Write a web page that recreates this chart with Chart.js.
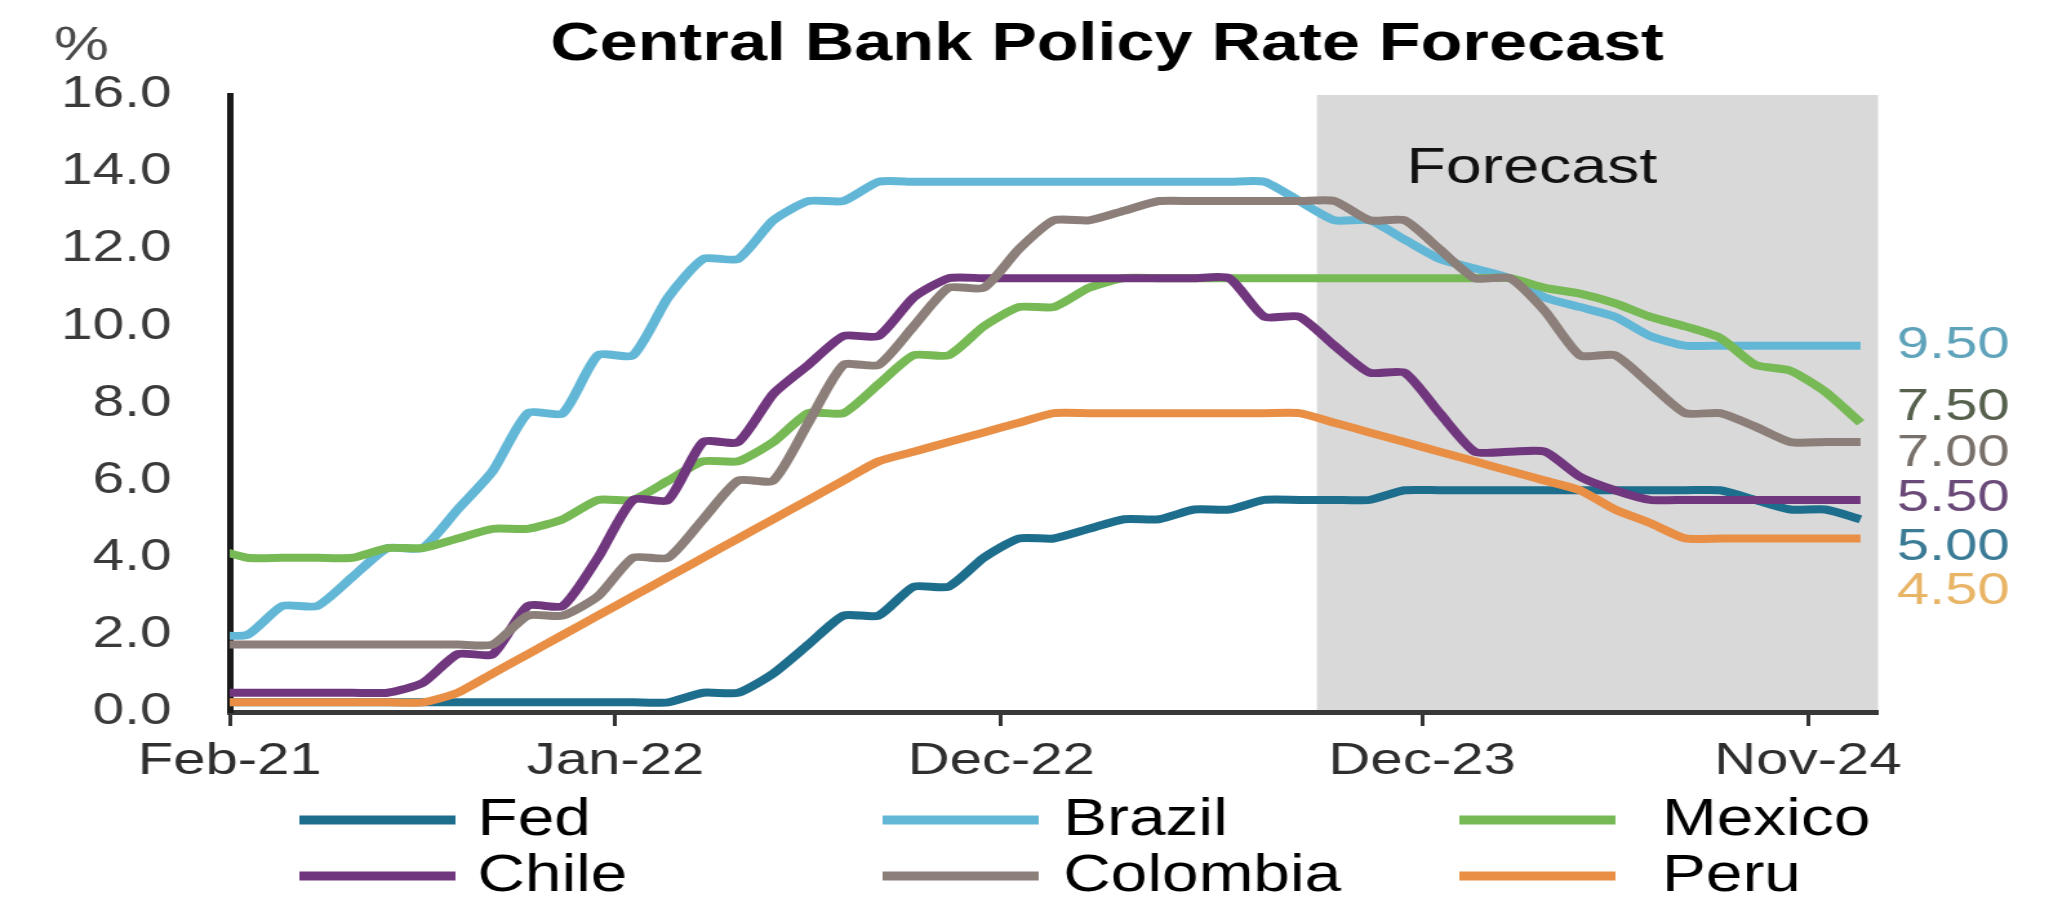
<!DOCTYPE html>
<html>
<head>
<meta charset="utf-8">
<title>Central Bank Policy Rate Forecast</title>
<script src="https://cdn.jsdelivr.net/npm/chart.js@4.4.1/dist/chart.umd.min.js"></script>
<style>
    html, body { margin: 0; padding: 0; background: #fff; overflow: hidden; }
    canvas { display: block; }
</style>
</head>
<body>
<canvas id="rates" width="1588" height="906" style="width:2049px;height:906px"></canvas>
<script>
const months = [
    'Jan-21', 'Feb-21', 'Mar-21', 'Apr-21', 'May-21', 'Jun-21', 'Jul-21', 'Aug-21', 'Sep-21', 'Oct-21', 'Nov-21', 'Dec-21',
    'Jan-22', 'Feb-22', 'Mar-22', 'Apr-22', 'May-22', 'Jun-22', 'Jul-22', 'Aug-22', 'Sep-22', 'Oct-22', 'Nov-22', 'Dec-22',
    'Jan-23', 'Feb-23', 'Mar-23', 'Apr-23', 'May-23', 'Jun-23', 'Jul-23', 'Aug-23', 'Sep-23', 'Oct-23', 'Nov-23', 'Dec-23',
    'Jan-24', 'Feb-24', 'Mar-24', 'Apr-24', 'May-24', 'Jun-24', 'Jul-24', 'Aug-24', 'Sep-24', 'Oct-24', 'Nov-24', 'Dec-24'
];
const tickMonths = ['Feb-21', 'Jan-22', 'Dec-22', 'Dec-23', 'Nov-24'];
const forecastFrom = 'Sep-23';

// month-end policy rates, %
const fed = [
    0.25, 0.25, 0.25, 0.25, 0.25, 0.25, 0.25, 0.25, 0.25, 0.25, 0.25, 0.25,
    0.25, 0.25, 0.5, 0.5, 1.0, 1.75, 2.5, 2.5, 3.25, 3.25, 4.0, 4.5,
    4.5, 4.75, 5.0, 5.0, 5.25, 5.25, 5.5, 5.5, 5.5, 5.5, 5.75, 5.75,
    5.75, 5.75, 5.75, 5.75, 5.75, 5.75, 5.75, 5.75, 5.5, 5.25, 5.25, 5.0
];
const brazil = [
    2.0, 2.0, 2.75, 2.75, 3.5, 4.25, 4.25, 5.25, 6.25, 7.75, 7.75, 9.25,
    9.25, 10.75, 11.75, 11.75, 12.75, 13.25, 13.25, 13.75, 13.75, 13.75, 13.75, 13.75,
    13.75, 13.75, 13.75, 13.75, 13.75, 13.75, 13.75, 13.25, 12.75, 12.75, 12.25, 11.75,
    11.5, 11.25, 10.75, 10.5, 10.25, 9.75, 9.5, 9.5, 9.5, 9.5, 9.5, 9.5
];
const mexico = [
    4.25, 4.0, 4.0, 4.0, 4.0, 4.25, 4.25, 4.5, 4.75, 4.75, 5.0, 5.5,
    5.5, 6.0, 6.5, 6.5, 7.0, 7.75, 7.75, 8.5, 9.25, 9.25, 10.0, 10.5,
    10.5, 11.0, 11.25, 11.25, 11.25, 11.25, 11.25, 11.25, 11.25, 11.25, 11.25, 11.25,
    11.25, 11.25, 11.0, 10.85, 10.6, 10.25, 10.0, 9.7, 9.0, 8.85, 8.3, 7.5
];
const chile = [
    0.5, 0.5, 0.5, 0.5, 0.5, 0.5, 0.75, 1.5, 1.5, 2.75, 2.75, 4.0,
    5.5, 5.5, 7.0, 7.0, 8.25, 9.0, 9.75, 9.75, 10.75, 11.25, 11.25, 11.25,
    11.25, 11.25, 11.25, 11.25, 11.25, 11.25, 10.25, 10.25, 9.5, 8.8, 8.8, 7.75,
    6.75, 6.75, 6.75, 6.1, 5.75, 5.5, 5.5, 5.5, 5.5, 5.5, 5.5, 5.5
];
const colombia = [
    1.75, 1.75, 1.75, 1.75, 1.75, 1.75, 1.75, 1.75, 1.75, 2.5, 2.5, 3.0,
    4.0, 4.0, 5.0, 6.0, 6.0, 7.5, 9.0, 9.0, 10.0, 11.0, 11.0, 12.0,
    12.75, 12.75, 13.0, 13.25, 13.25, 13.25, 13.25, 13.25, 13.25, 12.75, 12.75, 12.0,
    11.25, 11.25, 10.4, 9.25, 9.25, 8.5, 7.75, 7.75, 7.4, 7.0, 7.0, 7.0
];
const peru = [
    0.25, 0.25, 0.25, 0.25, 0.25, 0.25, 0.25, 0.5, 1.0, 1.5, 2.0, 2.5,
    3.0, 3.5, 4.0, 4.5, 5.0, 5.5, 6.0, 6.5, 6.75, 7.0, 7.25, 7.5,
    7.75, 7.75, 7.75, 7.75, 7.75, 7.75, 7.75, 7.75, 7.5, 7.25, 7.0, 6.75,
    6.5, 6.25, 6.0, 5.75, 5.25, 4.9, 4.5, 4.5, 4.5, 4.5, 4.5, 4.5
];

const FONT = "'Liberation Sans', Arial, Helvetica, sans-serif";

// x runs in months from 1 Feb 2021; each month-end value sits mid-month
const monthStart = m => months.indexOf(m) - 1;
const points = values => values.map((v, i) => ({ x: i - 0.5, y: v }));

const line = (label, values, color, order) => ({
    label, order,
    data: points(values),
    borderColor: color,
    backgroundColor: color,
    borderWidth: 8,
    pointRadius: 0,
    tension: 0.2,
    borderJoinStyle: 'round',
    fill: false
});

// end-of-line value tags, nudged apart where they would overlap
const endTags = {
    Fed: { color: '#3b7b95', shift: 28 },
    Brazil: { color: '#5fa3bb', shift: 0 },
    Mexico: { color: '#56614d', shift: -15 },
    Chile: { color: '#6a4a78', shift: -1 },
    Colombia: { color: '#78716b', shift: 12 },
    Peru: { color: '#e8b466', shift: 53 }
};

const forecastShade = {
    id: 'forecastShade',
    beforeDraw(chart) {
        const { ctx, chartArea: a, scales: { x } } = chart;
        const left = x.getPixelForValue(monthStart(forecastFrom));
        ctx.save();
        ctx.fillStyle = '#d9d9d9';
        ctx.fillRect(left, a.top, a.right - left, a.bottom - a.top);
        ctx.restore();
    }
};

const annotations = {
    id: 'annotations',
    afterDraw(chart) {
        const { ctx, scales: { y } } = chart;
        ctx.save();

        ctx.textAlign = 'center';
        ctx.textBaseline = 'alphabetic';
        ctx.fillStyle = '#000';
        ctx.font = `bold 53px ${FONT}`;
        ctx.fillText('Central Bank Policy Rate Forecast', 858, 60);

        ctx.fillStyle = '#4a4a4a';
        ctx.font = `48px ${FONT}`;
        ctx.fillText('%', 63, 60);

        ctx.textAlign = 'left';
        ctx.fillStyle = '#111';
        ctx.font = `50px ${FONT}`;
        ctx.fillText('Forecast', 1090, 183);

        // value tags at the right end of each line
        ctx.textBaseline = 'middle';
        ctx.font = `45px ${FONT}`;
        chart.data.datasets.forEach(ds => {
            const last = ds.data[ds.data.length - 1].y;
            const tag = endTags[ds.label];
            ctx.fillStyle = tag.color;
            ctx.fillText(last.toFixed(2), 1470, y.getPixelForValue(last) + tag.shift);
        });

        // legend, three columns by two rows
        const sampleX = [232, 684, 1131];
        const textX = [370, 824, 1288];
        const rowY = [820, 876];
        ctx.font = `51px ${FONT}`;
        ctx.lineWidth = 9;
        chart.data.datasets.forEach((ds, i) => {
            const col = i % 3, row = Math.floor(i / 3);
            ctx.strokeStyle = ds.borderColor;
            ctx.beginPath();
            ctx.moveTo(sampleX[col], rowY[row]);
            ctx.lineTo(sampleX[col] + 121, rowY[row]);
            ctx.stroke();
            ctx.fillStyle = '#000';
            ctx.fillText(ds.label, textX[col], rowY[row] + 1);
        });

        ctx.restore();
    }
};

new Chart(document.getElementById('rates'), {
    type: 'line',
    data: {
        datasets: [
            line('Fed', fed, '#1d6d8c', 3),
            line('Brazil', brazil, '#63b7d6', 5),
            line('Mexico', mexico, '#77b955', 4),
            line('Chile', chile, '#71377e', 2),
            line('Colombia', colombia, '#8c7f79', 0),
            line('Peru', peru, '#e98f45', 1)
        ]
    },
    options: {
        responsive: false,
        devicePixelRatio: 1,
        animation: false,
        layout: { padding: { top: 95, right: 132.5, bottom: 0, left: 0 } },
        plugins: {
            legend: { display: false },
            title: { display: false },
            tooltip: { enabled: false }
        },
        scales: {
            x: {
                type: 'linear',
                min: 0,
                max: 47,
                afterBuildTicks: s => { s.ticks = tickMonths.map(m => ({ value: monthStart(m) })); },
                afterFit: s => { s.height = 194; },
                ticks: {
                    autoSkip: false,
                    maxRotation: 0,
                    padding: 9,
                    color: '#2e2e2e',
                    font: { family: FONT, size: 45 },
                    callback: v => months[v + 1]
                },
                grid: { display: true, drawOnChartArea: false, drawTicks: true, tickLength: 14, tickWidth: 3, tickColor: '#333' },
                border: { display: true, color: '#383838', width: 5 }
            },
            y: {
                min: 0,
                max: 16,
                afterFit: s => { s.width = 178; },
                ticks: {
                    stepSize: 2,
                    padding: 45,
                    color: '#3a3a3a',
                    font: { family: FONT, size: 44 },
                    callback: v => v.toFixed(1)
                },
                grid: { display: false, drawTicks: false },
                border: { display: true, color: '#1a1a1a', width: 5 }
            }
        }
    },
    plugins: [forecastShade, annotations]
});
</script>
</body>
</html>
